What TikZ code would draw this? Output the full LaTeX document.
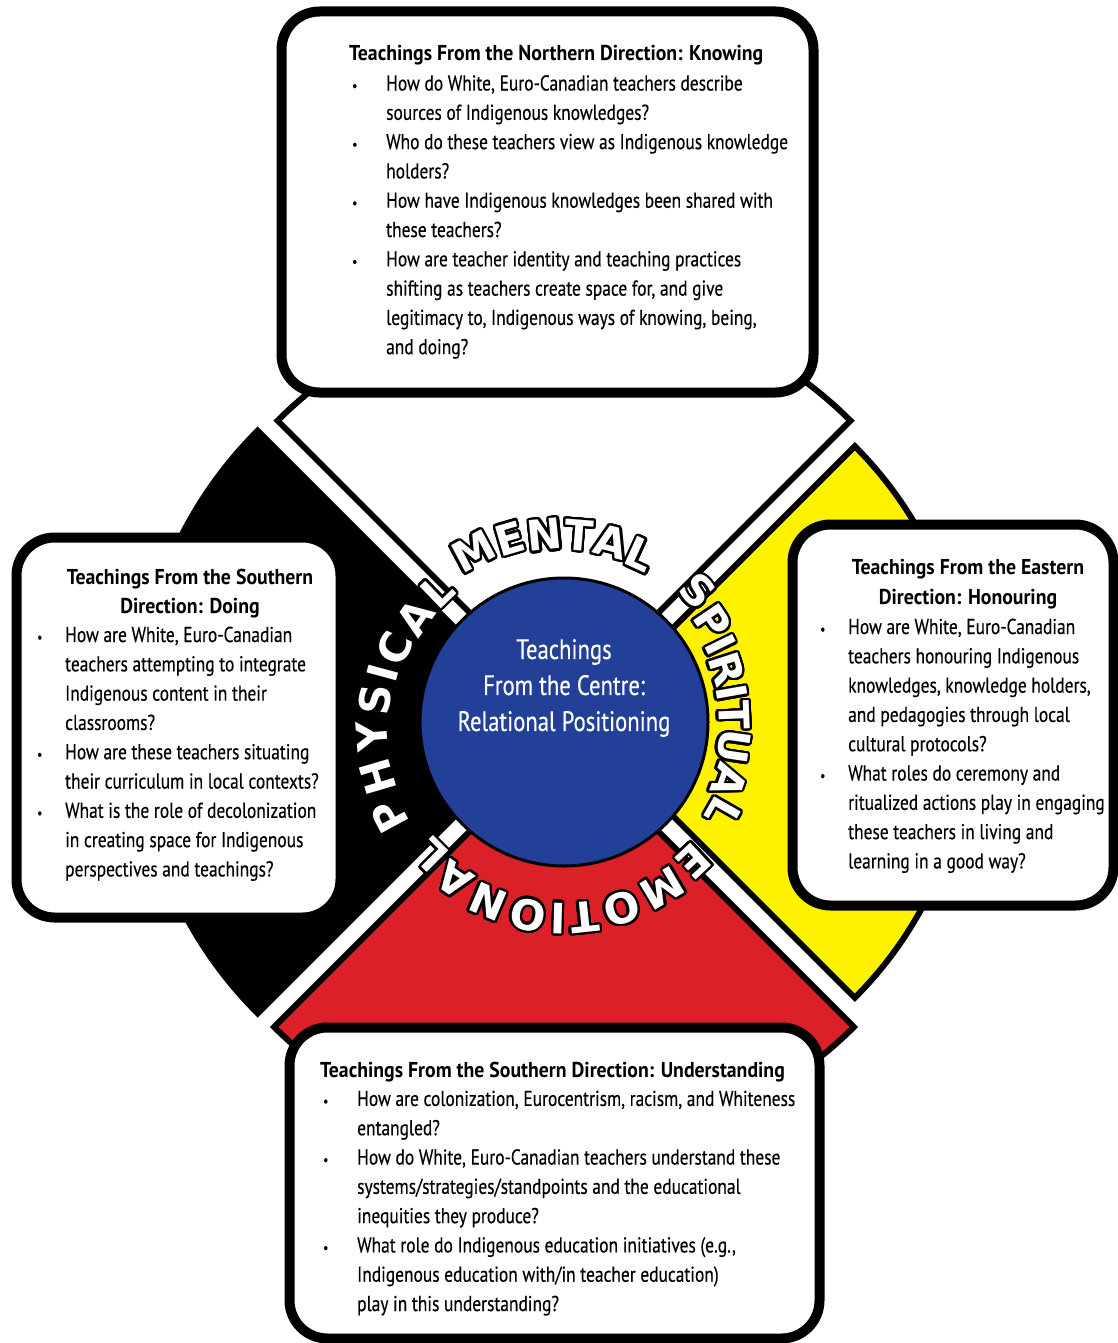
\documentclass[tikz,border=0pt]{standalone}
\usepackage{fontspec}
\setmainfont{PT Sans}[FakeStretch=0.81, FakeBold=0.35]
\newfontfamily\ttlfont{PT Sans}[FakeStretch=0.92]
\newfontfamily\wheelfont{DejaVu Sans}
\usepackage[copies]{contour}
\contourlength{2.4pt}
\contournumber{24}
\definecolor{wheelblue}{RGB}{35,64,152}
\definecolor{wheelred}{RGB}{220,32,39}
\definecolor{wheelyellow}{RGB}{255,242,0}
\newcommand{\bl}[1][34pt]{\llap{\makebox[#1][l]{\fontsize{14}{14}\selectfont\textbullet}}}
\newcommand{\outl}[1]{\contour{black}{#1}}
\tikzset{
  wedge/.style={draw=black, line width=6pt, line join=miter},
  qbox/.style={rectangle, rounded corners=38pt, draw=black, line width=10pt,
               fill=white, inner sep=0pt},
  ttl/.style={font=\ttlfont\bfseries\fontsize{21.5}{29.3}\selectfont, inner sep=0pt},
  body/.style={font=\fontsize{21.5}{29.3}\selectfont, align=left,
               inner sep=0pt, anchor=north west},
  wlbl/.style={font=\wheelfont\bfseries\fontsize{42}{42}\selectfont,
               text=white, inner sep=0pt},
}
\begin{document}
\begin{tikzpicture}[x=1pt, y=1pt]
  \useasboundingbox (0,0) rectangle (1117,-1343);
  \coordinate (C) at (564,-722);
  % the four directions
  \foreach \ang/\col/\rad in {90/white/405, 0/wheelyellow/390, 270/wheelred/410, 180/black/412}
    \draw[wedge, fill=\col] ([shift={(\ang:15)}]C) -- ++(\ang-45:\rad)
      arc[start angle=\ang-45, end angle=\ang+45, radius=\rad] -- cycle;

  % question boxes
  \node[qbox, minimum width=532pt, minimum height=381pt] (nbox) at (547.5,-202) {};
  \node[qbox, minimum width=324pt, minimum height=380pt] (wbox) at (178.5,-727.5) {};
  \node[qbox, minimum width=321pt, minimum height=381pt] (ebox) at (953,-715) {};
  \node[qbox, minimum width=530pt, minimum height=311pt] (sbox) at (554.5,-1183) {};

  % centre
  \node[circle, draw=black, line width=3pt, fill=wheelblue, minimum size=288pt,
        inner sep=0pt] (centre) at (C) {};
  \node[text=white, align=center, font=\fontsize{28}{36}\selectfont] (ctext)
    at (564,-688) {Teachings\\From the Centre:\\Relational Positioning};

  % wheel labels
  \foreach \ch/\a/\d [count=\i, evaluate=\a as \r using \a-90] in
      {M/118/192, E/106.4/190, N/95.9/187, T/85.4/186, A/75.3/185, L/65.5/183}
    \node[wlbl, rotate=\r] (mental\i) at ([shift={(\a:\d)}]C) {\outl{\ch}};
  \foreach \ch/\a/\d [count=\i, evaluate=\a as \r using \a-90] in
      {S/44.4/186, P/34/178, I/26.2/173, R/18/170, I/9.9/169, T/2.3/169,
       U/-8.3/170, A/-19.7/174, L/-29.7/182}
    \node[wlbl, rotate=\r] (spirit\i) at ([shift={(\a:\d)}]C) {\outl{\ch}};
  \foreach \ch/\a/\d [count=\i, evaluate=\a as \r using \a-90] in
      {E/-47/189, M/-59.3/192, O/-72.8/194, T/-84/195, I/-91.7/195,
       O/-100.6/195, N/-112.9/194, A/-124.7/191, L/-135/187}
    \node[wlbl, rotate=\r] (emot\i) at ([shift={(\a:\d)}]C) {\outl{\ch}};
  \foreach \ch/\a/\d [count=\i, evaluate=\a as \r using \a-90] in
      {P/208.4/197, H/196.4/193, Y/184.4/191, S/173.3/189, I/164.9/187,
       C/156.4/184, A/144.9/180, L/134/181}
    \node[wlbl, rotate=\r] (phys\i) at ([shift={(\a:\d)}]C) {\outl{\ch}};

  % north
  \node[ttl, anchor=base west] (ntitle) at (349,-61)
    {Teachings From the Northern Direction: Knowing};
  \node[body] (nbody) at (386,-75) {\bl How do White, Euro-Canadian teachers describe\\
    sources of Indigenous knowledges?\\
    \bl Who do these teachers view as Indigenous knowledge\\
    holders?\\
    \bl How have Indigenous knowledges been shared with\\
    these teachers?\\
    \bl How are teacher identity and teaching practices\\
    shifting as teachers create space for, and give\\
    legitimacy to, Indigenous ways of knowing, being,\\
    and doing?};

  % west
  \node[ttl, align=center, anchor=north] (wtitle) at (190,-568.5)
    {Teachings From the Southern\\Direction: Doing};
  \node[body] (wbody) at (65,-626.5) {\bl[28pt]How are White, Euro-Canadian\\
    teachers attempting to integrate\\
    Indigenous content in their\\
    classrooms?\\
    \bl[28pt]How are these teachers situating\\
    their curriculum in local contexts?\\
    \bl[28pt]What is the role of decolonization\\
    in creating space for Indigenous\\
    perspectives and teachings?};

  % east
  \node[ttl, align=center, anchor=north] (etitle) at (968,-559.5)
    {Teachings From the Eastern\\Direction: Honouring};
  \node[body] (ebody) at (848,-618.5) {\bl[28pt]How are White, Euro-Canadian\\
    teachers honouring Indigenous\\
    knowledges, knowledge holders,\\
    and pedagogies through local\\
    cultural protocols?\\
    \bl[28pt]What roles do ceremony and\\
    ritualized actions play in engaging\\
    these teachers in living and\\
    learning in a good way?};

  % south
  \node[ttl, anchor=base west] (stitle) at (320,-1077)
    {Teachings From the Southern Direction: Understanding};
  \node[body] (sbody) at (357,-1090.5) {\bl How are colonization, Eurocentrism, racism, and Whiteness\\
    entangled?\\
    \bl How do White, Euro-Canadian teachers understand these\\
    systems/strategies/standpoints and the educational\\
    inequities they produce?\\
    \bl What role do Indigenous education initiatives (e.g.,\\
    Indigenous education with/in teacher education)\\
    play in this understanding?};
\end{tikzpicture}
\end{document}
